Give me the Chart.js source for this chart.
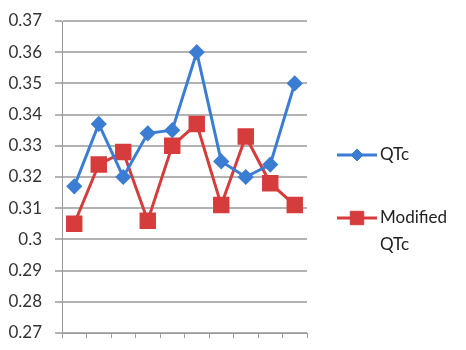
<!DOCTYPE html>
<html>
<head>
<meta charset="utf-8">
<script src="https://cdn.jsdelivr.net/npm/chart.js@4"></script>
<style>
  html, body { margin: 0; padding: 0; background: #fff; }
  #wrap { width: 466px; height: 350px; position: relative; }
</style>
</head>
<body>
<div id="wrap"><canvas id="chart"></canvas></div>
<script>
const categories = ['1', '2', '3', '4', '5', '6', '7', '8', '9', '10'];
const qtc = [0.317, 0.337, 0.320, 0.334, 0.335, 0.360, 0.325, 0.320, 0.324, 0.350];
const modifiedQtc = [0.305, 0.324, 0.328, 0.306, 0.330, 0.337, 0.311, 0.333, 0.318, 0.311];
const yTicks = [0.27, 0.28, 0.29, 0.3, 0.31, 0.32, 0.33, 0.34, 0.35, 0.36, 0.37];
const legendLabels = [['QTc'], ['Modified', 'QTc']];

const BLUE = '#3b7dd3';
const RED = '#d63c3c';
const FONT = 'Lato, "Open Sans", sans-serif';

// legend drawn on the right, Excel style (multi-line labels)
const sideLegend = {
  id: 'sideLegend',
  afterDraw(chart) {
    const ctx = chart.ctx;
    const rows = [155, 218];
    ctx.save();
    chart.data.datasets.forEach(function (ds, i) {
      const y = rows[i];
      ctx.strokeStyle = ds.borderColor;
      ctx.fillStyle = ds.backgroundColor;
      ctx.lineWidth = 3;
      ctx.beginPath();
      ctx.moveTo(337, y);
      ctx.lineTo(377, y);
      ctx.stroke();
      ctx.lineWidth = 1;
      Chart.helpers.drawPoint(ctx, {
        pointStyle: ds.pointStyle,
        radius: ds.pointRadius,
        borderWidth: 1
      }, 357, y);
      ctx.fillStyle = '#222';
      ctx.font = '17px ' + FONT;
      ctx.textBaseline = 'middle';
      legendLabels[i].forEach(function (line, j) {
        ctx.fillText(line, 380, y + j * 27);
      });
    });
    ctx.restore();
  }
};

new Chart(document.getElementById('chart'), {
  type: 'line',
  data: {
    labels: categories,
    datasets: [{
      label: 'QTc',
      data: qtc,
      borderColor: BLUE,
      backgroundColor: BLUE,
      borderWidth: 3,
      pointStyle: 'rectRot',
      pointRadius: 6,
      pointHoverRadius: 6,
      tension: 0
    }, {
      label: 'Modified QTc',
      data: modifiedQtc,
      borderColor: RED,
      backgroundColor: RED,
      borderWidth: 3,
      pointStyle: 'rect',
      pointRadius: 9.5,
      pointHoverRadius: 9.5,
      tension: 0
    }]
  },
  options: {
    responsive: true,
    maintainAspectRatio: false,
    animation: false,
    layout: { padding: { top: 21, right: 159, left: 0, bottom: 0 } },
    plugins: {
      legend: { display: false },
      tooltip: { enabled: false }
    },
    scales: {
      x: {
        offset: true,
        grid: { offset: true, drawOnChartArea: false, drawTicks: true, tickLength: 5, color: '#999' },
        border: { color: '#999', width: 1 },
        ticks: { display: false },
        afterFit(scale) { scale.height = 17; }
      },
      y: {
        min: 0.27,
        max: 0.37,
        afterBuildTicks(scale) { scale.ticks = yTicks.map(v => ({ value: v })); },
        grid: { color: '#b3b3b3', lineWidth: 2, tickLength: 7 },
        border: { color: '#999', width: 1 },
        ticks: {
          color: '#333',
          font: { family: FONT, size: 17 },
          padding: 13,
          callback: v => String(Math.round(v * 100) / 100)
        },
        afterFit(scale) {
          scale.width = 62;
          scale.paddingTop = 0;
          scale.paddingBottom = 0;
        }
      }
    }
  },
  plugins: [sideLegend]
});
</script>
</body>
</html>
